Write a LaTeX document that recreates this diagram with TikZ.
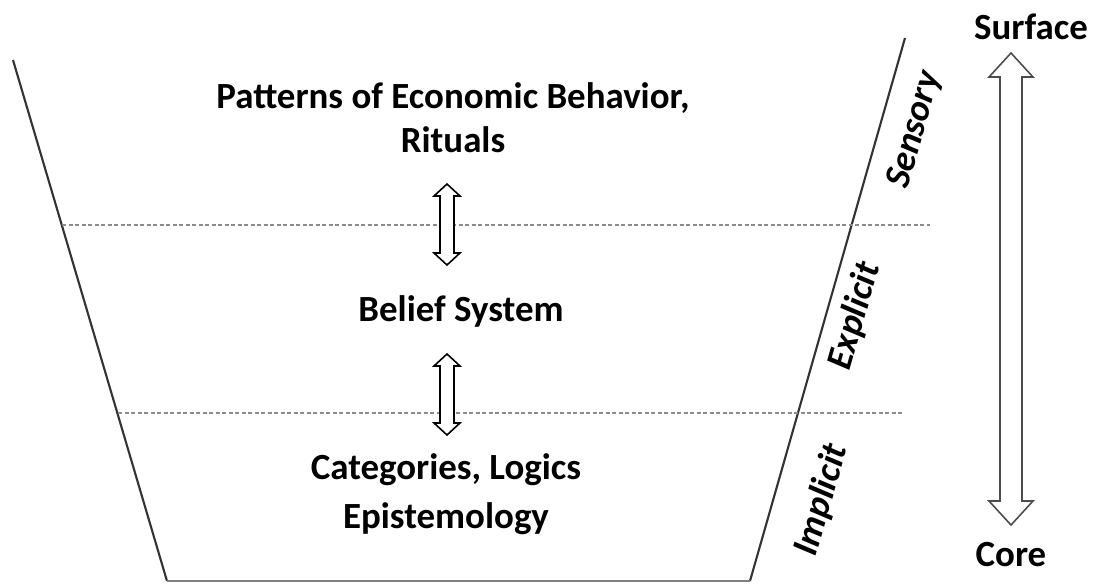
\documentclass[tikz,border=0pt]{standalone}
\usepackage{fontspec}
\setmainfont{Carlito}
\usetikzlibrary{positioning}

\begin{document}
\begin{tikzpicture}[x=0.02cm, y=-0.02cm,
  wall/.style={line width=1.2pt, black!80},
  level/.style={line width=1.3pt, gray!90, dash pattern=on 2.5pt off 1.2pt},
  layertext/.style={font=\fontsize{21}{25}\selectfont\bfseries, align=center},
  sidetext/.style={font=\fontsize{21}{25}\selectfont\bfseries\itshape, rotate=74},
  blockarrow/.style={line width=0.9pt, draw=black, fill=white}]

\useasboundingbox (0,0) rectangle (1100,583);

\coordinate (tl) at (13,60);
\coordinate (bl) at (167,581);
\coordinate (br) at (750,581);
\coordinate (tr) at (905,38);

\draw [wall] (tl) -- (bl);
\draw [wall] (tr) -- (br);
\draw [gray, line width=1.2pt] (bl) -- (br);

% layer borders
\coordinate (u1) at (62,225);
\coordinate (u2) at (930,225);
\coordinate (l1) at (118,413);
\coordinate (l2) at (903,413);
\draw [level] (u1) -- (u2);
\draw [level] (l1) -- (l2);

\node [layertext] (behav) at (453,118) {Patterns of Economic Behavior,\\Rituals};
\node [layertext] (belief) at (461,311) {Belief System};
\node [layertext, font=\fontsize{21}{27.8}\selectfont\bfseries] (categ) at (446,494) {Categories, Logics\\Epistemology};

\coordinate (a1) at (447,184);
\coordinate (a2) at (447,354);

\foreach \tip in {a1,a2}
    \draw [blockarrow] (\tip) -- ++(13,12) -- ++(-6,0) -- ++(0,57) -- ++(6,0)
        -- ++(-13,12) -- ++(-13,-12) -- ++(6,0) -- ++(0,-57) -- ++(-6,0) -- cycle;

\node [sidetext] (sens) at (915,130) {Sensory};
\node [sidetext] (expl) at (855,316) {Explicit};
\node [sidetext] (impl) at (822,500) {Implicit};

\node [layertext] (surf) at (1031,27) {Surface};
\node [layertext] (core) at (1011,555) {Core};

\coordinate (s) at (1011,53);
\draw [blockarrow, draw=black!70] (s) -- ++(22,24) -- ++(-11,0) -- ++(0,424) -- ++(11,0)
    -- ++(-22,24) -- ++(-22,-24) -- ++(11,0) -- ++(0,-424) -- ++(-11,0) -- cycle;

\end{tikzpicture}
\end{document}
